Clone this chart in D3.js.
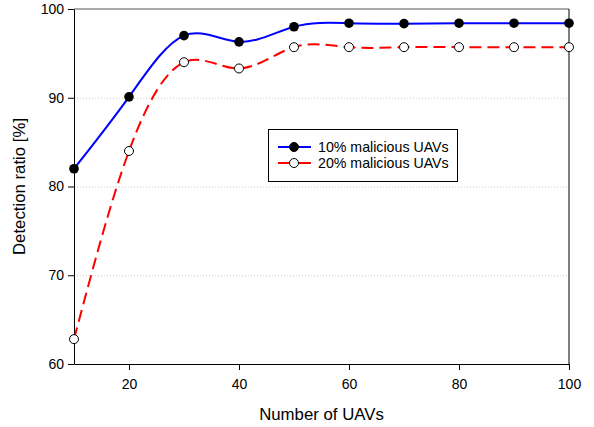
<!DOCTYPE html>
<html>
<head>
<meta charset="utf-8">
<script src="https://cdn.jsdelivr.net/npm/d3@7"></script>
<style>
  body { margin: 0; background: #fff; }
  svg { font-family: Arial, "Liberation Sans", sans-serif; }
</style>
</head>
<body>
<svg id="canvas" width="594" height="427"></svg>
<script>
let uavCounts = [10, 20, 30, 40, 50, 60, 70, 80, 90, 100]
let ratio10 = [82, 90.1, 97, 96.3, 98, 98.4, 98.35, 98.4, 98.4, 98.4]
let ratio20 = [62.8, 84, 94, 93.3, 95.7, 95.7, 95.7, 95.7, 95.7, 95.7]
let xTicks = [20, 40, 60, 80, 100]
let yTicks = [60, 70, 80, 90, 100]
let gridValues = [70, 80, 90]
let seriesNames = ['10% malicious UAVs', '20% malicious UAVs']

const canvas = d3.select('#canvas')
const plotLeft = 74, plotRight = 569, plotTop = 9, plotBottom = 364

let xScale = d3.scaleLinear().domain([10, 100]).range([plotLeft, plotRight])
let yScale = d3.scaleLinear().domain([60, 100]).range([plotBottom, plotTop])

// dotted grid
canvas.selectAll('.grid')
  .data(gridValues)
  .enter()
  .append('line')
  .attr('x1', plotLeft).attr('x2', plotRight)
  .attr('y1', d => yScale(d) + 0.5).attr('y2', d => yScale(d) + 0.5)
  .attr('stroke', '#c8c8c8')
  .attr('stroke-dasharray', '1,2')

// frame top / right
canvas.append('line')
  .attr('x1', plotLeft).attr('x2', plotRight).attr('y1', plotTop).attr('y2', plotTop)
  .attr('stroke', '#555').attr('stroke-width', 1)
canvas.append('line')
  .attr('x1', plotRight).attr('x2', plotRight).attr('y1', plotTop).attr('y2', plotBottom)
  .attr('stroke', '#000').attr('stroke-width', 1)

let xAxis = d3.axisBottom(xScale).tickValues(xTicks).tickSize(6).tickSizeOuter(0)
let yAxis = d3.axisLeft(yScale).tickValues(yTicks).tickSize(6).tickSizeOuter(0)

let gx = canvas.append('g').attr('transform', 'translate(0,' + plotBottom + ')').call(xAxis)
let gy = canvas.append('g').attr('transform', 'translate(' + plotLeft + ',0)').call(yAxis)
canvas.selectAll('.tick text')
  .attr('font-size', 14)
  .attr('font-family', 'Arial, "Liberation Sans", sans-serif')
  .attr('fill', '#000')
gx.selectAll('.tick text').attr('y', 15)
gy.selectAll('.tick text').attr('x', -10)

// axis titles
canvas.append('text')
  .attr('x', (plotLeft + plotRight) / 2)
  .attr('y', 420)
  .attr('text-anchor', 'middle')
  .attr('font-size', 16.8)
  .text('Number of UAVs')
canvas.append('text')
  .attr('transform', 'translate(25,' + (plotTop + plotBottom) / 2 + ') rotate(-90)')
  .attr('text-anchor', 'middle')
  .attr('font-size', 16.8)
  .text('Detection ratio [%]')

let lineGen = d3.line()
  .x(d => xScale(d[0]))
  .y(d => yScale(d[1]))
  .curve(d3.curveNatural)

let pts10 = uavCounts.map((u, i) => [u, ratio10[i]])
let pts20 = uavCounts.map((u, i) => [u, ratio20[i]])

canvas.append('path')
  .attr('d', lineGen(pts20))
  .attr('fill', 'none')
  .attr('stroke', '#ff0000')
  .attr('stroke-width', 2)
  .attr('stroke-dasharray', '12,6')

canvas.append('path')
  .attr('d', lineGen(pts10))
  .attr('fill', 'none')
  .attr('stroke', '#0000ff')
  .attr('stroke-width', 2)

canvas.selectAll('.m20')
  .data(pts20)
  .enter()
  .append('circle')
  .attr('cx', d => xScale(d[0]))
  .attr('cy', d => yScale(d[1]))
  .attr('r', 4.5)
  .attr('fill', '#fff')
  .attr('stroke', '#000')
  .attr('stroke-width', 1)

canvas.selectAll('.m10')
  .data(pts10)
  .enter()
  .append('circle')
  .attr('cx', d => xScale(d[0]))
  .attr('cy', d => yScale(d[1]))
  .attr('r', 4.8)
  .attr('fill', '#000')

// legend
let legend = canvas.append('g')
legend.append('rect')
  .attr('x', 268.5).attr('y', 129.5)
  .attr('width', 189).attr('height', 52)
  .attr('fill', '#fff')
  .attr('stroke', '#000')
let legendColors = ['#0000ff', '#ff0000']
seriesNames.forEach((name, i) => {
  let y = 147 + i * 16
  legend.append('line')
    .attr('x1', 278).attr('x2', 311).attr('y1', y).attr('y2', y)
    .attr('stroke', legendColors[i]).attr('stroke-width', 2)
  legend.append('circle')
    .attr('cx', 294).attr('cy', y).attr('r', 4.5)
    .attr('fill', i === 0 ? '#000' : '#fff')
    .attr('stroke', '#000')
  legend.append('text')
    .attr('x', 318).attr('y', y + 5)
    .attr('font-size', 14.2)
    .text(name)
})
</script>
</body>
</html>
